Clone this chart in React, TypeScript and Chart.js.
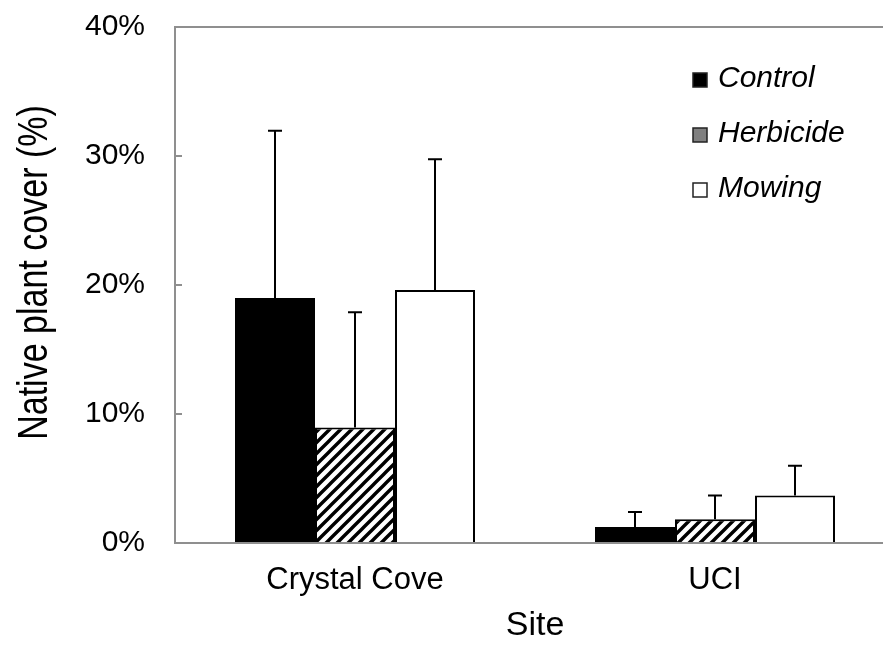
import { useEffect, useRef } from 'react';
import { Chart, registerables } from 'chart.js';

Chart.register(...registerables);

// Sites on the x axis
const sites = ['Crystal Cove', 'UCI'];
// Treatments (one bar each per site)
const treatments = ['Control', 'Herbicide', 'Mowing'];

// Mean native plant cover (%) per site
const controlCover = [18.99, 1.25];
const herbicideCover = [8.96, 1.85];
const mowingCover = [19.61, 3.68];

// Upper error whisker (%) per site
const controlError = [12.96, 1.16];
const herbicideError = [8.92, 1.83];
const mowingError = [10.14, 2.3];

// Y axis tick values (%)
const yTickValues = [0, 10, 20, 30, 40];

const yTitle = 'Native plant cover (%)';
const xTitle = 'Site';

const FONT = '"Liberation Sans", Arial, Helvetica, sans-serif';
const AXIS_GREY = '#8f8f8f';
const legendSwatches = ['#000000', '#808080', '#ffffff'];
const errorSets = [controlError, herbicideError, mowingError];

function makeHatch(): CanvasPattern | string {
  const s = 11;
  const tile = document.createElement('canvas');
  tile.width = s;
  tile.height = s;
  const t = tile.getContext('2d');
  if (!t) return '#808080';
  t.fillStyle = '#ffffff';
  t.fillRect(0, 0, s, s);
  t.strokeStyle = '#000000';
  t.lineWidth = 3.4;
  t.lineCap = 'square';
  t.beginPath();
  t.moveTo(-2, 2);
  t.lineTo(2, -2);
  t.moveTo(0, s);
  t.lineTo(s, 0);
  t.moveTo(s - 2, s + 2);
  t.lineTo(s + 2, s - 2);
  t.stroke();
  const p = t.createPattern(tile, 'repeat');
  return p ?? '#808080';
}

// Gray frame along the top (and right) of the plot area
const framePlugin = {
  id: 'plotFrame',
  beforeDatasetsDraw(chart: any) {
    const { ctx, chartArea } = chart;
    const { left, top, right, bottom } = chartArea;
    ctx.save();
    ctx.strokeStyle = AXIS_GREY;
    ctx.lineWidth = 2;
    ctx.beginPath();
    ctx.moveTo(left, top);
    ctx.lineTo(right, top);
    ctx.lineTo(right, bottom);
    ctx.stroke();
    ctx.restore();
  },
};

// Upper-only error whiskers with caps
const errorBarPlugin = {
  id: 'upperErrorBars',
  afterDatasetsDraw(chart: any) {
    const { ctx } = chart;
    const yScale = chart.scales.y;
    ctx.save();
    ctx.strokeStyle = '#000000';
    ctx.lineWidth = 2;
    chart.data.datasets.forEach((ds: any, di: number) => {
      const meta = chart.getDatasetMeta(di);
      const errs = errorSets[di];
      meta.data.forEach((bar: any, i: number) => {
        const v = ds.data[i] as number;
        const yTop = yScale.getPixelForValue(v + errs[i]);
        const yBar = yScale.getPixelForValue(v);
        const x = Math.round(bar.x);
        ctx.beginPath();
        ctx.moveTo(x, yBar);
        ctx.lineTo(x, yTop);
        ctx.moveTo(x - 7, yTop);
        ctx.lineTo(x + 7, yTop);
        ctx.stroke();
      });
    });
    ctx.restore();
  },
};

// Rotated y axis title, drawn slightly condensed
const yTitlePlugin = {
  id: 'yAxisTitle',
  afterDraw(chart: any) {
    const { ctx, chartArea } = chart;
    ctx.save();
    ctx.translate(35, chartArea.top + 245.5);
    ctx.rotate(-Math.PI / 2);
    ctx.scale(0.81, 1);
    ctx.font = `42px ${FONT}`;
    ctx.fillStyle = '#000000';
    ctx.textAlign = 'center';
    ctx.textBaseline = 'middle';
    ctx.fillText(yTitle, 0, 0);
    ctx.restore();
  },
};

// Legend inside the plot area, top right
const legendPlugin = {
  id: 'treatmentLegend',
  afterDraw(chart: any) {
    const { ctx, chartArea } = chart;
    ctx.save();
    ctx.font = `italic 30px ${FONT}`;
    ctx.textBaseline = 'alphabetic';
    ctx.textAlign = 'left';
    chart.data.datasets.forEach((ds: any, i: number) => {
      const baseline = chartArea.top + 60 + i * 55;
      const sx = chartArea.left + 518;
      const size = 14;
      ctx.fillStyle = legendSwatches[i];
      ctx.fillRect(sx, baseline - size, size, size);
      ctx.strokeStyle = '#222222';
      ctx.lineWidth = 1.5;
      ctx.strokeRect(sx, baseline - size, size, size);
      ctx.fillStyle = '#000000';
      ctx.fillText(ds.label, sx + 25, baseline);
    });
    ctx.restore();
  },
};

export default function App() {
  const ref = useRef<HTMLCanvasElement>(null);

  useEffect(() => {
    const canvas = ref.current;
    if (!canvas) return;
    const hatch = makeHatch();
    const fills = ['#000000', hatch, '#ffffff'];
    const values = [controlCover, herbicideCover, mowingCover];

    const chart = new Chart(canvas, {
      type: 'bar',
      data: {
        labels: sites,
        datasets: treatments.map((name, i) => ({
          label: name,
          data: values[i],
          backgroundColor: fills[i] as any,
          borderColor: '#000000',
          borderWidth: 2,
          categoryPercentage: 240 / 360,
          barPercentage: 1,
        })),
      },
      options: {
        responsive: false,
        animation: false,
        devicePixelRatio: 1,
        layout: { padding: { top: 27, right: 5, bottom: 0, left: 0 } },
        plugins: {
          legend: { display: false },
          tooltip: { enabled: false },
        },
        scales: {
          x: {
            type: 'category',
            offset: true,
            grid: { display: false, drawTicks: false },
            border: { display: true, color: AXIS_GREY, width: 2 },
            ticks: {
              color: '#000000',
              font: { family: FONT, size: 31 },
              padding: 19,
              maxRotation: 0,
              autoSkip: false,
            },
            title: {
              display: true,
              text: xTitle,
              color: '#000000',
              font: { family: FONT, size: 34 },
              padding: { top: 0, bottom: 0 },
            },
            afterFit: (s: any) => {
              s.height = 103;
              s.paddingLeft = 0;
              s.paddingRight = 0;
            },
          },
          y: {
            min: 0,
            max: 40,
            afterBuildTicks: (s: any) => {
              s.ticks = yTickValues.map((v) => ({ value: v }));
            },
            grid: {
              display: true,
              drawOnChartArea: false,
              drawTicks: true,
              tickLength: -7,
              color: AXIS_GREY,
              lineWidth: 2,
            },
            border: { display: true, color: AXIS_GREY, width: 2 },
            ticks: {
              color: '#000000',
              font: { family: FONT, size: 30 },
              padding: 37,
              callback: (v: any) => `${v}%`,
            },
            title: { display: false },
            afterFit: (s: any) => {
              s.width = 175;
              s.paddingTop = 0;
              s.paddingBottom = 0;
            },
          },
        },
      },
      plugins: [framePlugin, errorBarPlugin, yTitlePlugin, legendPlugin],
    });

    return () => chart.destroy();
  }, []);

  return (
    <div
      style={{
        position: 'fixed',
        left: 0,
        top: 0,
        width: 883,
        height: 646,
        overflow: 'hidden',
        background: '#ffffff',
      }}
    >
      <canvas ref={ref} width={900} height={646} style={{ display: 'block', width: 900, height: 646 }} />
    </div>
  );
}
